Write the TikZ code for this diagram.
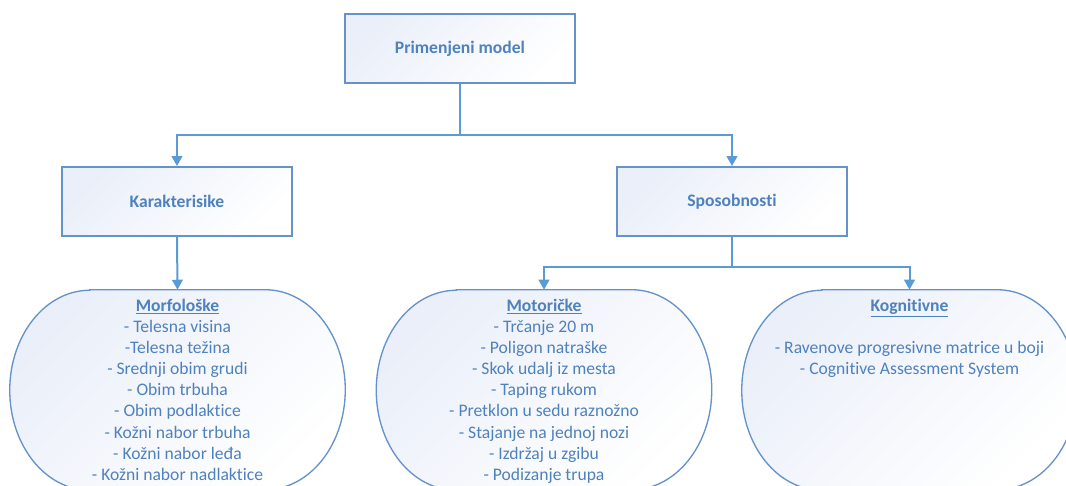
\documentclass[tikz,border=0pt]{standalone}
\usepackage{fontspec}
\setmainfont{Carlito}[Ligatures=NoCommon]
\usetikzlibrary{arrows.meta}

\definecolor{txtblue}{RGB}{79,129,189}
\definecolor{lineblue}{RGB}{91,155,213}
\definecolor{edgeblue}{RGB}{100,146,204}
\definecolor{fillblue}{RGB}{234,239,249}

% one drawing unit = one pixel of the layout grid
\newdimen\pxu \pxu=0.75pt

\tikzset{
  catbox/.style={rectangle, draw=edgeblue, line width=1.4pt,
    minimum width=230\pxu, minimum height=69\pxu, inner sep=0pt,
    top color=fillblue, bottom color=white, shading angle=45,
    text=txtblue, font=\bfseries\fontsize{13.2}{15.8}\selectfont},
  blobnode/.style={rectangle, minimum width=335\pxu, minimum height=200\pxu, inner sep=0pt},
  blobline/.style={draw=edgeblue, line width=1pt,
    top color=fillblue, bottom color=white, shading angle=45},
  listtext/.style={text=txtblue, align=center, inner sep=0pt, anchor=north,
    font=\fontsize{13.2}{15.8}\selectfont},
  arr/.style={draw=lineblue, line width=1.5pt,
    -{Triangle[width=8pt,length=7.5pt]}},
}

% outline with elliptical corners around a blob node
\newcommand\blobpath[1]{%
  \path[blobline] ([xshift=80\pxu]#1.north west) -- ([xshift=-80\pxu]#1.north east)
    arc[start angle=90,end angle=0,x radius=80\pxu,y radius=100\pxu]
    arc[start angle=0,end angle=-90,x radius=80\pxu,y radius=100\pxu]
    -- ([xshift=80\pxu]#1.south west)
    arc[start angle=270,end angle=180,x radius=80\pxu,y radius=100\pxu]
    arc[start angle=180,end angle=90,x radius=80\pxu,y radius=100\pxu] -- cycle;}

\begin{document}
\begin{tikzpicture}[x=0.75pt,y=0.75pt]
\useasboundingbox (0,0) rectangle (1066,-485);
\clip (0,0) rectangle (1066,-485);

% upper levels
\node[catbox] (top) at (460,-48.5) {Primenjeni model};
\node[catbox] (kar) at (177,-201.5) {Karakterisike};
\node[catbox] (spo) at (732,-201.5) {Sposobnosti};

% lower level
\node[blobnode] (morf) at (177.5,-390) {};
\node[blobnode] (moto) at (544,-390) {};
\node[blobnode] (kog) at (909.5,-390) {};
\blobpath{morf}
\blobpath{moto}
\blobpath{kog}

\node[listtext] (morft) at (177.5,-299) {\underline{\textbf{Morfološke}}\\
  - Telesna visina\\ -Telesna težina\\ - Srednji obim grudi\\ - Obim trbuha\\
  - Obim podlaktice\\ - Kožni nabor trbuha\\ - Kožni nabor leđa\\
  - Kožni nabor nadlaktice};
\node[listtext] (motot) at (544,-299) {\underline{\textbf{Motoričke}}\\
  - Trčanje 20 m\\ - Poligon natraške\\ - Skok udalj iz mesta\\ - Taping rukom\\
  - Pretklon u sedu raznožno\\ - Stajanje na jednoj nozi\\ - Izdržaj u zgibu\\
  - Podizanje trupa};
\node[listtext] (kogt) at (909.5,-299) {\underline{\textbf{Kognitivne}}\\[15.8pt]
  - Ravenove progresivne matrice u boji\\ - Cognitive Assessment System};

% connectors
\coordinate (j1) at (460,-135);
\coordinate (j2) at (732,-267);
\draw[draw=lineblue, line width=1.5pt] (top.south) -- (j1);
\draw[arr] (j1) -| (kar.north);
\draw[arr] (j1) -| (spo.north);
\draw[arr] (kar.south) -- (morf.north);
\draw[draw=lineblue, line width=1.5pt] (spo.south) -- (j2);
\draw[arr] (j2) -| (moto.north);
\draw[arr] (j2) -| (kog.north);
\end{tikzpicture}
\end{document}
